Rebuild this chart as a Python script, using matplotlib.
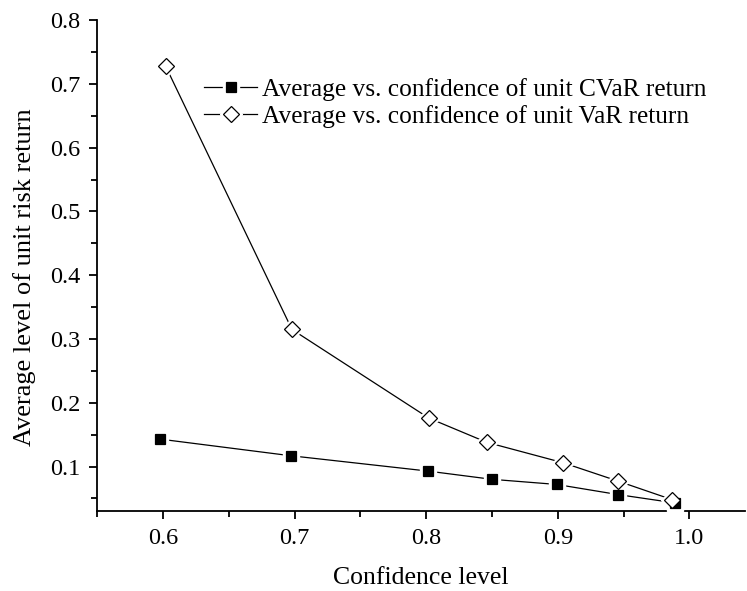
import matplotlib.pyplot as plt
from matplotlib.ticker import MultipleLocator
from matplotlib.legend_handler import HandlerTuple

plt.rcParams['font.family'] = ['Liberation Serif', 'DejaVu Serif']

# confidence levels and average unit risk return
cvar_conf = [0.598, 0.697, 0.801, 0.850, 0.899, 0.946, 0.989]
cvar_ret = [0.143, 0.117, 0.093, 0.080, 0.072, 0.056, 0.043]

var_conf = [0.602, 0.698, 0.802, 0.846, 0.904, 0.946, 0.987]
var_ret = [0.728, 0.315, 0.176, 0.138, 0.106, 0.077, 0.048]

labels = ['Average vs. confidence of unit CVaR return',
          'Average vs. confidence of unit VaR return']

fig = plt.figure(figsize=(7.47, 5.91), dpi=100)
ax = fig.add_axes([0.13, 0.135, 0.867, 0.831])


def draw_series(x, y, marker, size, face, z):
    # line, then white halo so line stops short of marker (Origin style), then marker
    line, = ax.plot(x, y, color='black', linewidth=0.9, zorder=2)
    halo, = ax.plot(x, y, linestyle='none', marker=marker, markersize=size + 3.5,
                    markerfacecolor='white', markeredgecolor='white', zorder=z)
    mark, = ax.plot(x, y, linestyle='none', marker=marker, markersize=size,
                    markerfacecolor=face, markeredgecolor='black',
                    markeredgewidth=0.9, zorder=z + 0.5)
    return (line, halo, mark)


h_cvar = draw_series(cvar_conf, cvar_ret, 's', 7.5, 'black', 3)
h_var = draw_series(var_conf, var_ret, 'D', 8, 'white', 3.1)
h_var[1].set_zorder(2.9)

ax.set_xlim(0.55, 1.042)
ax.set_ylim(0.03, 0.8)

ax.xaxis.set_major_locator(MultipleLocator(0.1))
ax.xaxis.set_minor_locator(MultipleLocator(0.05))
ax.yaxis.set_major_locator(MultipleLocator(0.1))
ax.yaxis.set_minor_locator(MultipleLocator(0.05))
ax.xaxis.set_major_formatter(plt.FormatStrFormatter('%.1f'))
ax.yaxis.set_major_formatter(plt.FormatStrFormatter('%.1f'))

for side in ['top', 'right']:
    ax.spines[side].set_visible(False)
for side in ['left', 'bottom']:
    ax.spines[side].set_linewidth(1.3)

ax.tick_params(which='major', direction='out', length=6, width=1.3,
               labelsize=17.5, pad=6)
ax.tick_params(which='minor', direction='out', length=4, width=1.3)

ax.set_xlabel('Confidence level', fontsize=18.5, labelpad=13)
ax.set_ylabel('Average level of unit risk return', fontsize=19)
ax.yaxis.set_label_coords(-0.094, 0.477)

ax.legend([h_cvar, h_var], labels, handler_map={tuple: HandlerTuple(ndivide=1)},
          loc='upper left', bbox_to_anchor=(0.165, 0.882), frameon=False,
          fontsize=18.3, handlelength=2.1, handletextpad=0.2,
          labelspacing=0.14, borderpad=0, borderaxespad=0)

fig.savefig('out.png', dpi=100)
